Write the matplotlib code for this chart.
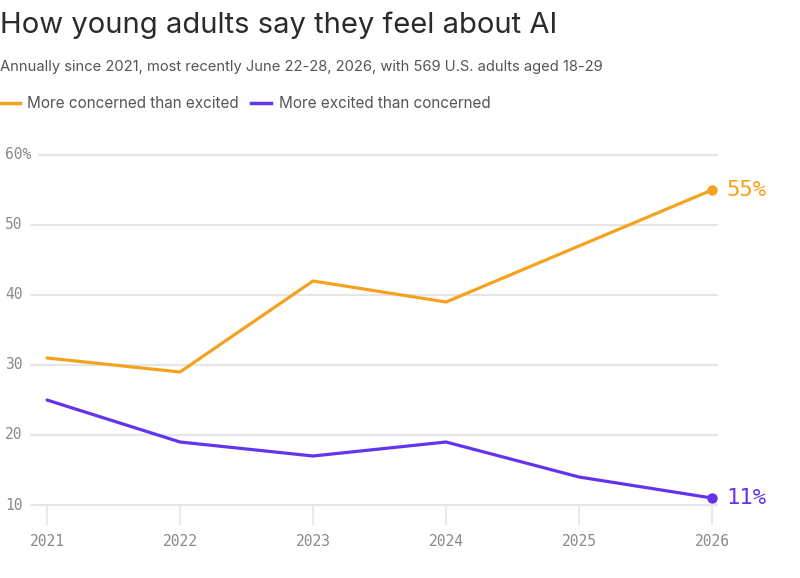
import numpy as np
import matplotlib.pyplot as plt
from matplotlib.lines import Line2D
from matplotlib.transforms import blended_transform_factory

years = [2021, 2022, 2023, 2024, 2025, 2026]
concerned = [31, 29, 42, 39, 47, 55]
excited = [25, 19, 17, 19, 14, 11]
yticks = [10, 20, 30, 40, 50, 60]
ytick_labels = ["10", "20", "30", "40", "50", "60%"]

orange = "#F5A31E"
purple = "#6234EE"
grid_col = "#E6E6E6"
tick_col = "#8A8A8A"
sans = ["Inter", "DejaVu Sans"]
mono = ["DejaVu Sans Mono"]

W, H = 800, 578
fig = plt.figure(figsize=(W / 100, H / 100), dpi=100)

# axes placed in pixel terms
ax_l, ax_r, ax_t, ax_b = 30, 718, 150, 530
ax = fig.add_axes([ax_l / W, 1 - ax_b / H, (ax_r - ax_l) / W, (ax_b - ax_t) / H])
px_year = (712 - 47) / 5
ax.set_xlim(2021 - (47 - ax_l) / px_year, 2026 + (ax_r - 712) / px_year)
px_unit = (505 - 155) / 50
ax.set_ylim(10 - (ax_b - 505) / px_unit, 60 + (155 - ax_t) / px_unit)
ax.axis("off")

x0, x1 = ax.get_xlim()
lab_tr = blended_transform_factory(fig.transFigure, ax.transData)
for v, lab in zip(yticks, ytick_labels):
    start = x0 + (8 / px_year if lab.endswith("%") else 0)
    ax.hlines(v, start, x1, color=grid_col, lw=1.5, zorder=1)
    fig.text(5 / W, v, lab, transform=lab_tr, ha="left", va="center",
             fontsize=10.5, color=tick_col, family=mono)

for y in years:
    ax.vlines(y, 10 - 20 / px_unit, 10, color=grid_col, lw=1.2, zorder=1, clip_on=False)
    ax.text(y, 10 - 36 / px_unit, str(y), ha="center", va="center",
            fontsize=10.5, color=tick_col, family=mono)

ax.plot(years, concerned, color=orange, lw=2.3, zorder=3, solid_capstyle="round")
ax.plot(years, excited, color=purple, lw=2.3, zorder=3, solid_capstyle="round")
ax.plot(years[-1], concerned[-1], "o", color=orange, ms=6.5, zorder=4, clip_on=False)
ax.plot(years[-1], excited[-1], "o", color=purple, ms=6.5, zorder=4, clip_on=False)
ax.text(years[-1] + 14 / px_year, concerned[-1], f"{concerned[-1]}%", ha="left", va="center",
        fontsize=16, color=orange, family=mono)
ax.text(years[-1] + 14 / px_year, excited[-1], f"{excited[-1]}%", ha="left", va="center",
        fontsize=16, color=purple, family=mono)

fig.text(0, 1 - 25 / H, "How young adults say they feel about AI", ha="left", va="center",
         fontsize=21, color="#2B2B2B", family=sans)
fig.text(0, 1 - 67 / H, "Annually since 2021, most recently June 22-28, 2026, with 569 U.S. adults aged 18-29",
         ha="left", va="center", fontsize=10.6, color="#555555", family=sans)

# legend
ly = 1 - 103 / H
fig.add_artist(Line2D([0, 20 / W], [ly, ly], color=orange, lw=2.5))
fig.text(27 / W, ly, "More concerned than excited", ha="left", va="center",
         fontsize=11, color="#555555", family=sans)
fig.add_artist(Line2D([251 / W, 271 / W], [ly, ly], color=purple, lw=2.5))
fig.text(279 / W, ly, "More excited than concerned", ha="left", va="center",
         fontsize=11, color="#555555", family=sans)

fig.savefig("out.png", dpi=100, facecolor="white")
